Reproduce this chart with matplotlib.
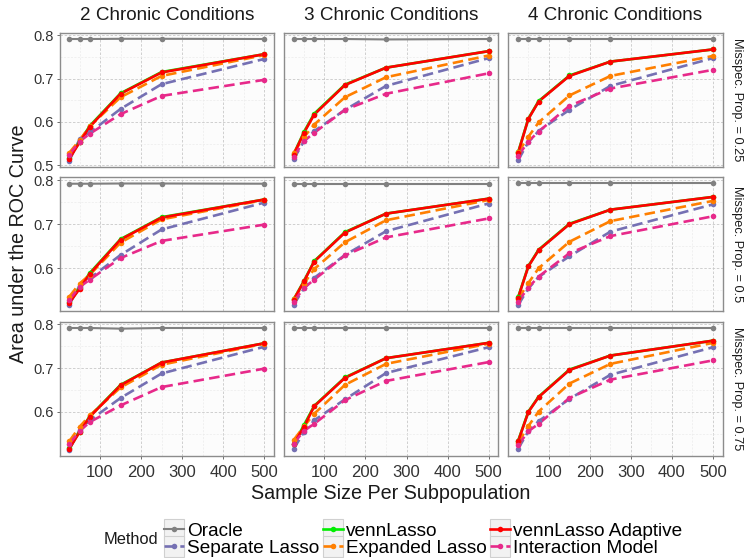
import matplotlib
matplotlib.use("Agg")
import matplotlib.pyplot as plt
from matplotlib.legend_handler import HandlerLine2D
from matplotlib.patches import Rectangle
from matplotlib.lines import Line2D
from matplotlib.ticker import MultipleLocator

plt.rcParams['font.family'] = ['Liberation Sans', 'DejaVu Sans']

# sample sizes per subpopulation
sizes = [25, 50, 75, 150, 250, 500]

col_labels = ["2 Chronic Conditions", "3 Chronic Conditions", "4 Chronic Conditions"]
row_labels = ["Misspec. Prop. = 0.25", "Misspec. Prop. = 0.5", "Misspec. Prop. = 0.75"]

methods = ["Oracle", "Separate Lasso", "vennLasso", "Expanded Lasso",
           "vennLasso Adaptive", "Interaction Model"]

# AUC per panel (row-major: prop 0.25 -> cond 2,3,4; prop 0.5 ...; prop 0.75 ...)
oracle = [
    [0.791, 0.791, 0.791, 0.7915, 0.7915, 0.791],
    [0.791, 0.791, 0.791, 0.791, 0.790, 0.791],
    [0.791, 0.791, 0.791, 0.791, 0.791, 0.791],
    [0.792, 0.792, 0.792, 0.7925, 0.7925, 0.792],
    [0.792, 0.792, 0.792, 0.792, 0.792, 0.792],
    [0.793, 0.793, 0.793, 0.793, 0.793, 0.793],
    [0.792, 0.792, 0.792, 0.7905, 0.792, 0.792],
    [0.7925, 0.7925, 0.7925, 0.7925, 0.7925, 0.7925],
    [0.7925, 0.7925, 0.7925, 0.7925, 0.7925, 0.7925],
]
separate = [
    [0.511, 0.560, 0.576, 0.630, 0.687, 0.745],
    [0.514, 0.556, 0.579, 0.628, 0.683, 0.747],
    [0.512, 0.554, 0.579, 0.628, 0.683, 0.747],
    [0.517, 0.560, 0.577, 0.630, 0.688, 0.749],
    [0.517, 0.554, 0.578, 0.630, 0.684, 0.747],
    [0.516, 0.554, 0.580, 0.627, 0.683, 0.745],
    [0.514, 0.558, 0.581, 0.632, 0.688, 0.749],
    [0.516, 0.554, 0.581, 0.629, 0.689, 0.748],
    [0.516, 0.556, 0.579, 0.630, 0.685, 0.748],
]
venn = [
    [0.517, 0.554, 0.591, 0.666, 0.715, 0.756],
    [0.526, 0.577, 0.619, 0.686, 0.725, 0.763],
    [0.530, 0.608, 0.648, 0.707, 0.739, 0.767],
    [0.522, 0.555, 0.589, 0.666, 0.716, 0.756],
    [0.529, 0.571, 0.616, 0.682, 0.724, 0.758],
    [0.534, 0.605, 0.642, 0.701, 0.733, 0.762],
    [0.517, 0.555, 0.590, 0.662, 0.713, 0.757],
    [0.527, 0.570, 0.614, 0.679, 0.723, 0.758],
    [0.534, 0.601, 0.635, 0.697, 0.729, 0.763],
]
expanded = [
    [0.529, 0.558, 0.590, 0.657, 0.706, 0.754],
    [0.529, 0.565, 0.594, 0.657, 0.703, 0.753],
    [0.530, 0.566, 0.599, 0.661, 0.706, 0.752],
    [0.535, 0.565, 0.585, 0.658, 0.711, 0.755],
    [0.530, 0.565, 0.598, 0.659, 0.709, 0.755],
    [0.530, 0.566, 0.600, 0.660, 0.707, 0.753],
    [0.533, 0.566, 0.592, 0.656, 0.708, 0.756],
    [0.536, 0.567, 0.596, 0.662, 0.710, 0.756],
    [0.530, 0.568, 0.601, 0.665, 0.710, 0.758],
]
adaptive = [
    [0.515, 0.553, 0.589, 0.665, 0.714, 0.756],
    [0.525, 0.575, 0.617, 0.685, 0.725, 0.763],
    [0.529, 0.607, 0.647, 0.706, 0.739, 0.767],
    [0.521, 0.553, 0.587, 0.665, 0.715, 0.756],
    [0.528, 0.570, 0.615, 0.681, 0.724, 0.758],
    [0.533, 0.604, 0.641, 0.700, 0.733, 0.762],
    [0.516, 0.554, 0.589, 0.661, 0.713, 0.757],
    [0.526, 0.566, 0.613, 0.678, 0.723, 0.758],
    [0.533, 0.600, 0.634, 0.696, 0.729, 0.763],
]
interaction = [
    [0.525, 0.555, 0.573, 0.618, 0.660, 0.697],
    [0.520, 0.556, 0.575, 0.628, 0.665, 0.712],
    [0.522, 0.555, 0.578, 0.637, 0.677, 0.720],
    [0.528, 0.557, 0.574, 0.623, 0.662, 0.699],
    [0.524, 0.555, 0.574, 0.629, 0.670, 0.713],
    [0.524, 0.556, 0.581, 0.634, 0.673, 0.718],
    [0.527, 0.556, 0.577, 0.615, 0.657, 0.699],
    [0.528, 0.557, 0.573, 0.627, 0.671, 0.714],
    [0.524, 0.556, 0.573, 0.632, 0.674, 0.718],
]

series = [oracle, separate, venn, expanded, adaptive, interaction]
colors = ["#808080", "#7570B3", "#00EE00", "#FF7F00", "#FF0000", "#E7298A"]
dashed = [False, True, False, True, False, True]


class KeyHandler(HandlerLine2D):
    # ggplot-like legend key: grey box behind the line
    def create_artists(self, legend, orig_handle, xdescent, ydescent,
                       width, height, fontsize, trans):
        box = Rectangle((-xdescent, -ydescent - 2), width, height + 4,
                        facecolor="#F2F2F2", edgecolor="#D0D0D0", lw=0.8,
                        transform=trans)
        arts = super().create_artists(legend, orig_handle, xdescent, ydescent,
                                      width, height, fontsize, trans)
        return [box] + arts


fig, axes = plt.subplots(3, 3, figsize=(7.44, 5.58), dpi=100,
                         sharex=True, sharey="row")
fig.subplots_adjust(left=0.080, right=0.9714, top=0.9414, bottom=0.1833,
                    wspace=0.047, hspace=0.078)

for i in range(3):
    for j in range(3):
        ax = axes[i, j]
        k = i * 3 + j
        ax.set_facecolor("#FCFCFC")
        # lines first, then points on top
        for s, c, d in zip(series, colors, dashed):
            ls = (0, (4, 2)) if d else "-"
            lw = 1.5 if c == "#808080" else 1.9
            ax.plot(sizes, s[k], color=c, lw=lw, linestyle=ls, zorder=2)
        for s, c in zip(series, colors):
            ax.plot(sizes, s[k], color=c, lw=0, marker="o", ms=4,
                    markeredgewidth=0, zorder=3)

        ax.xaxis.set_major_locator(MultipleLocator(100))
        ax.xaxis.set_minor_locator(MultipleLocator(50))
        ax.yaxis.set_major_locator(MultipleLocator(0.1))
        ax.yaxis.set_minor_locator(MultipleLocator(0.05))
        ax.yaxis.set_major_formatter(plt.FuncFormatter(lambda v, p: f"{v:.1f}"))
        ax.grid(which="major", color="#C8C8C8", linestyle=(0, (3, 2)), lw=0.6)
        ax.grid(which="minor", color="#EBEBEB", linestyle=(0, (3, 2)), lw=0.5)
        ax.set_axisbelow(True)
        for sp in ax.spines.values():
            sp.set_color("#8C8C8C")
            sp.set_linewidth(1.0)

        ax.tick_params(which="minor", length=0)
        ax.tick_params(axis="y", length=2.5, width=0.6, color="#555555",
                       pad=2, labelsize=10.5, labelcolor="#333333",
                       left=(j == 0), labelleft=(j == 0))
        ax.tick_params(axis="x", length=2.5, width=0.6, color="#555555",
                       pad=4, labelsize=12, labelcolor="#333333",
                       bottom=(i == 2), labelbottom=(i == 2))

        if i == 0:
            ax.text(0.5, 1.132, col_labels[j], transform=ax.transAxes,
                    ha="center", va="center", fontsize=13.6, color="#1A1A1A")
        if j == 2:
            ax.text(1.065, 0.5, row_labels[i], transform=ax.transAxes,
                    ha="center", va="center", rotation=-90, fontsize=9.2,
                    color="#1A1A1A")

fig.text(18.5 / 744, 1 - 244 / 558, "Area under the ROC Curve", rotation=90,
         ha="center", va="center", fontsize=14.2, color="#1A1A1A")
fig.text(391 / 744, 1 - 493.3 / 558, "Sample Size Per Subpopulation",
         ha="center", va="center", fontsize=14.2, color="#1A1A1A")

# legend
handles = []
for c, d in zip(colors, dashed):
    ls = (0, (4, 2)) if d else "-"
    lw = 1.5 if c == "#808080" else 1.9
    handles.append(Line2D([], [], color=c, lw=lw, linestyle=ls, marker="o",
                          ms=4, markeredgewidth=0))
fig.text(131 / 744, 1 - 540 / 558, "Method", ha="center", va="center",
         fontsize=11.8, color="#1A1A1A")
fig.legend(handles, methods, ncol=3, loc="upper left",
           bbox_to_anchor=(164 / 744, 1 - 522 / 558), frameon=False,
           fontsize=13.7, handlelength=1.05, handleheight=0.85,
           handletextpad=0.15, columnspacing=0.2, labelspacing=-0.05,
           borderpad=0, borderaxespad=0, numpoints=1,
           handler_map={Line2D: KeyHandler()})

fig.savefig("out.png", dpi=100)
